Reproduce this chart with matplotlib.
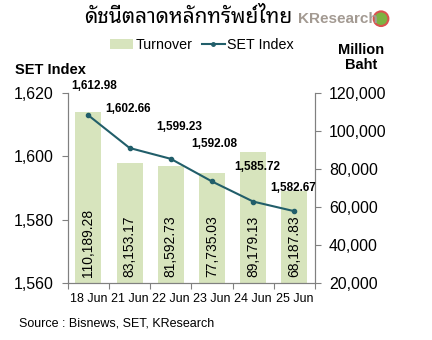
import matplotlib
matplotlib.use("Agg")
import matplotlib.pyplot as plt
from matplotlib.lines import Line2D
from matplotlib.patches import Patch, Ellipse
from matplotlib.ticker import FuncFormatter

plt.rcParams['font.family'] = ['Liberation Sans', 'DejaVu Sans']

# data
dates = ['18 Jun', '21 Jun', '22 Jun', '23 Jun', '24 Jun', '25 Jun']
set_index = [1612.98, 1602.66, 1599.23, 1592.08, 1585.72, 1582.67]
turnover = [110189.28, 83153.17, 81592.73, 77735.03, 89179.13, 68187.83]

# label offsets (points) for the SET index labels
label_dx = [4, -1, 6, 2, 3, -1]
label_dy = [21, 28, 23, 27, 25, 17]

bar_color = '#d7e4bd'
line_color = '#215e6a'

fig = plt.figure(figsize=(4.32, 3.4), dpi=100)
ax_bar = fig.add_axes([0.157, 0.168, 0.572, 0.558])
ax_line = ax_bar.twinx()

x = list(range(len(dates)))

# turnover bars on the right axis scale
ax_bar.bar(x, turnover, width=0.63, color=bar_color, zorder=1)
ax_bar.set_ylim(20000, 120000)
ax_bar.set_xlim(-0.5, len(dates) - 0.5)
ax_bar.yaxis.tick_right()
ax_bar.yaxis.set_label_position('right')
ax_bar.set_yticks([20000, 40000, 60000, 80000, 100000, 120000])
ax_bar.yaxis.set_major_formatter(FuncFormatter(lambda v, p: f'{v:,.0f}'))

for xi, t in zip(x, turnover):
    ax_bar.text(xi, 23000, f'{t:,.2f}', rotation=90, ha='center', va='bottom',
                fontsize=10, color='black')

# SET index line on the left axis scale
ax_line.plot(x, set_index, color=line_color, lw=1.5, marker='o', ms=3, zorder=3)
ax_line.set_ylim(1560, 1620)
ax_line.yaxis.tick_left()
ax_line.yaxis.set_label_position('left')
ax_line.set_yticks([1560, 1580, 1600, 1620])
ax_line.yaxis.set_major_formatter(FuncFormatter(lambda v, p: f'{v:,.0f}'))

for xi, v, dx, dy in zip(x, set_index, label_dx, label_dy):
    ax_line.annotate(f'{v:,.2f}', (xi, v), xytext=(dx, dy), textcoords='offset points',
                     ha='center', va='center', fontsize=8.5, fontweight='bold')

ax_line.set_zorder(ax_bar.get_zorder() + 1)
ax_line.patch.set_visible(False)

for a in (ax_bar, ax_line):
    a.spines['top'].set_visible(False)
    a.spines['left'].set_color('#808080')
    a.spines['right'].set_color('#808080')
    a.spines['bottom'].set_color('#808080')

ax_bar.set_xticks([i - 0.5 for i in range(len(dates) + 1)])
ax_bar.set_xticklabels([])
ax_bar.set_xticks(x, minor=True)
ax_bar.set_xticklabels(dates, minor=True, fontsize=9)
ax_bar.tick_params(axis='x', which='major', length=4, color='#808080')
ax_bar.tick_params(axis='x', which='minor', length=0, pad=7)
ax_bar.tick_params(axis='y', labelsize=11.5, length=4, color='#808080', pad=6)
ax_line.tick_params(axis='y', labelsize=11.5, length=4, color='#808080', pad=6)

# title and logo
fig.text(0.435, 0.948, 'ดัชนีตลาดหลักทรัพย์ไทย', ha='center', va='center',
         fontsize=15, fontweight='bold', family=['Noto Sans Thai Looped', 'DejaVu Sans'])
fig.text(0.69, 0.945, 'KResearch', ha='left', va='center', fontsize=11,
         fontweight='bold', color='#a39a92')
fig.add_artist(Ellipse((0.882, 0.945), 0.034, 0.043, transform=fig.transFigure,
                       facecolor='#7cb342', edgecolor='#d9534f', lw=1.5))

# axis titles
fig.text(0.035, 0.795, 'SET Index', ha='left', va='center', fontsize=10.5, fontweight='bold')
fig.text(0.835, 0.83, 'Million\nBaht', ha='center', va='center', fontsize=10.5,
         fontweight='bold', linespacing=1.1)

# legend
handles = [Patch(facecolor=bar_color, edgecolor='none', label='Turnover'),
           Line2D([0], [0], color=line_color, lw=1.5, marker='o', ms=2.5, label='SET Index')]
fig.legend(handles=handles, loc='center', bbox_to_anchor=(0.468, 0.867), ncol=2,
           frameon=False, fontsize=10.3, handlelength=1.6, handletextpad=0.2,
           columnspacing=0.6, borderpad=0)

fig.text(0.045, 0.048, 'Source : Bisnews, SET, KResearch', ha='left', va='center', fontsize=9)

fig.savefig('out.png', dpi=100)
